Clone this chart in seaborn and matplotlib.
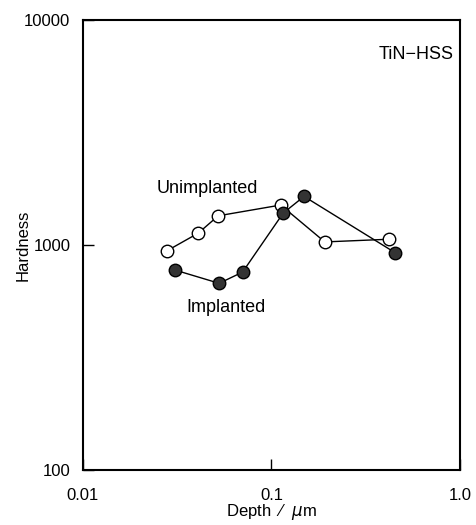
import matplotlib
matplotlib.use("Agg")
import matplotlib.pyplot as plt
import seaborn as sns
import pandas as pd

unimpl_depth = [0.0278, 0.0409, 0.0522, 0.112, 0.192, 0.422]
unimpl_hard = [940, 1128, 1347, 1504, 1031, 1060]
impl_depth = [0.0308, 0.0528, 0.0703, 0.1155, 0.149, 0.452]
impl_hard = [773, 675, 757, 1385, 1643, 925]

sns.set_theme(style="white")
plt.rcParams['font.family'] = ['Liberation Sans', 'DejaVu Sans']

fig = plt.figure(figsize=(4.77, 5.25), dpi=100)
ax = fig.add_axes([0.174, 0.105, 0.79, 0.857])

du = pd.DataFrame({"depth": unimpl_depth, "hard": unimpl_hard})
di = pd.DataFrame({"depth": impl_depth, "hard": impl_hard})

sns.lineplot(data=du, x="depth", y="hard", ax=ax, sort=False, estimator=None,
             color="black", lw=1.0, marker="o", markersize=9,
             markerfacecolor="white", markeredgecolor="black", markeredgewidth=1.0)
sns.lineplot(data=di, x="depth", y="hard", ax=ax, sort=False, estimator=None,
             color="black", lw=1.0, marker="o", markersize=9,
             markerfacecolor="#333333", markeredgecolor="black", markeredgewidth=1.0)

ax.set_xscale("log")
ax.set_yscale("log")
ax.set_xlim(0.01, 1.0)
ax.set_ylim(100, 10000)
ax.set_xticks([0.01, 0.1, 1.0])
ax.set_xticklabels(["0.01", "0.1", "1.0"])
ax.set_yticks([100, 1000, 10000])
ax.set_yticklabels(["100", "1000", "10000"])
ax.minorticks_off()
ax.tick_params(direction="in", length=8, width=1, colors="black", labelsize=12,
               bottom=True, left=True)
ax.tick_params(axis="x", pad=13)
ax.tick_params(axis="y", pad=9)
for s in ax.spines.values():
    s.set_color("black")
    s.set_linewidth(1.5)

ax.set_xlabel("Depth  \u2044  $\\mu$m", fontsize=12, color="black", labelpad=-1)
ax.set_ylabel("Hardness", fontsize=12, color="black")
ax.yaxis.set_label_coords(-0.14, 0.5)

ax.text(0.0247, 1780, "Unimplanted", fontsize=13, color="black", ha="left", va="center")
ax.text(0.0355, 525, "Implanted", fontsize=13, color="black", ha="left", va="center")
ax.text(0.93, 7000, "TiN\u2212HSS", fontsize=13, color="black", ha="right", va="center")

fig.savefig("out.png", dpi=100, facecolor="white")
